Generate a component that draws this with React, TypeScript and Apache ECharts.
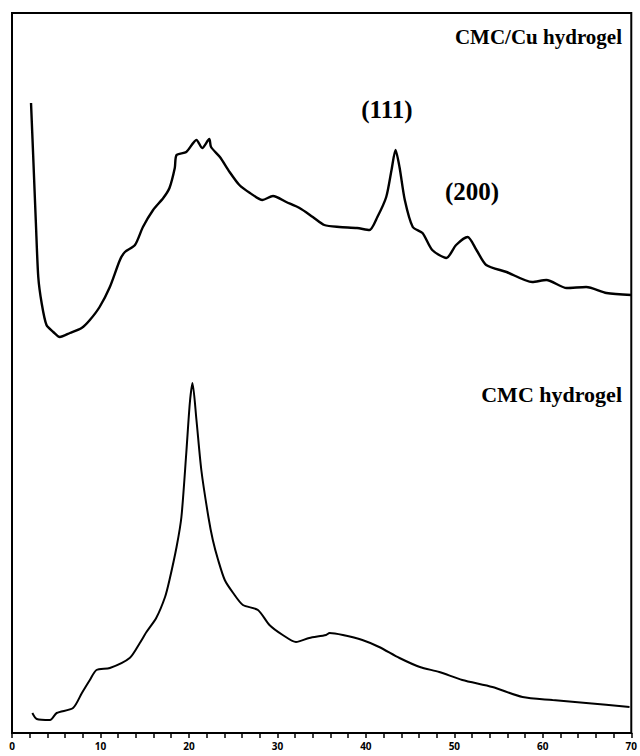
import React, { useEffect, useRef } from "react";
import * as echarts from "echarts";

// 2θ (degrees) and intensity (a.u.)
const cuX = [2.15, 2.4, 2.7, 2.97, 3.35, 3.9, 4.67, 5.4, 6.55, 7.87, 8.8, 9.9, 11.06, 12.2, 12.76, 13.9, 14.8, 15.95, 17.1, 17.8, 18.4, 18.6, 19.7, 20.85, 21.5, 22.3, 22.5, 23.5, 24.6, 25.7, 26.9, 28.3, 29.5, 31, 32.5, 34, 35.3, 37, 39, 40.4, 41.3, 42.3, 42.9, 43.35, 43.8, 44.4, 45.3, 46.4, 47.5, 49.1, 50.2, 51.5, 52.5, 53.6, 55.9, 58.8, 60.4, 62.7, 64.9, 67.2, 70];
const cuY = [630, 576, 510, 456, 430, 408, 401, 396, 400, 405, 413, 426, 446, 473, 481, 488, 506, 523, 535, 545, 565, 578, 581, 593, 585, 594, 586, 576, 561, 548, 540, 533, 537, 531, 525, 516, 508, 506, 505, 503, 516, 536, 563, 583, 566, 533, 506, 500, 483, 475, 488, 496, 483, 468, 461, 451, 453, 445, 446, 440, 438];

const cmcX = [2.3, 2.8, 4.3, 5.05, 6.9, 7.9, 8.8, 9.55, 11.06, 13.3, 14.45, 15.2, 16.3, 17.3, 17.8, 18.6, 19.15, 19.7, 20.1, 20.4, 20.85, 21.4, 22.2, 22.7, 23.3, 24.05, 25, 26.1, 27.8, 29.1, 30.6, 32.1, 33.6, 35.5, 35.9, 37.4, 39.6, 41.5, 43.8, 46.1, 48.3, 50.9, 54.3, 57.7, 61.1, 64.9, 69.8];
const cmcY = [20, 14, 13, 20, 25, 40, 53, 63, 65, 75, 90, 101, 115, 136, 153, 186, 216, 280, 330, 350, 313, 263, 216, 193, 173, 153, 140, 128, 123, 108, 98, 91, 95, 98, 100, 98, 93, 86, 75, 66, 61, 53, 46, 36, 33, 30, 26];

const xTicks = [0, 10, 20, 30, 40, 50, 60, 70];
const seriesNames = ["CMC/Cu hydrogel", "CMC hydrogel"];
const peakLabels = ["(111)", "(200)"];

export default function App() {
  const ref = useRef<HTMLDivElement>(null);
  useEffect(() => {
    if (!ref.current) return;
    const chart = echarts.init(ref.current, undefined, { renderer: "svg" });
    const serif = '"Liberation Serif", "Times New Roman", serif';
    chart.setOption({
      animation: false,
      backgroundColor: "#ffffff",
      grid: {
        left: 12,
        right: 8,
        top: 13,
        bottom: 23,
        show: true,
        borderColor: "#000",
        borderWidth: 2,
        backgroundColor: "transparent",
      },
      xAxis: {
        type: "value",
        min: xTicks[0],
        max: xTicks[xTicks.length - 1],
        interval: 10,
        axisLine: { show: true, onZero: false, lineStyle: { color: "#000", width: 2 } },
        axisTick: { show: true, length: 5, lineStyle: { color: "#000", width: 1.5 } },
        minorTick: { show: true, splitNumber: 5, length: 5, lineStyle: { color: "#000", width: 1.5 } },
        splitLine: { show: false },
        minorSplitLine: { show: false },
        axisLabel: {
          color: "#000",
          fontFamily: '"Open Sans", sans-serif',
          fontWeight: "bold",
          fontSize: 10,
          margin: 8,
          showMinLabel: true,
          showMaxLabel: true,
        },
      },
      yAxis: {
        type: "value",
        min: 0,
        max: 720,
        axisLine: { show: true, lineStyle: { color: "#000", width: 2 } },
        axisTick: { show: false },
        axisLabel: { show: false },
        splitLine: { show: false },
      },
      series: [
        {
          name: seriesNames[0],
          type: "line",
          data: cuX.map((x, i) => [x, cuY[i]]),
          showSymbol: false,
          symbol: "none",
          smooth: 0.25,
          lineStyle: { color: "#000", width: 2.4 },
        },
        {
          name: seriesNames[1],
          type: "line",
          data: cmcX.map((x, i) => [x, cmcY[i]]),
          showSymbol: false,
          symbol: "none",
          smooth: 0.25,
          lineStyle: { color: "#000", width: 2 },
        },
      ],
      graphic: [
        {
          type: "text",
          x: 622,
          y: 37,
          style: {
            text: seriesNames[0],
            font: `bold 21px ${serif}`,
            fill: "#000",
            align: "right",
            verticalAlign: "middle",
          },
        },
        {
          type: "text",
          x: 622,
          y: 394,
          style: {
            text: seriesNames[1],
            font: `bold 22px ${serif}`,
            fill: "#000",
            align: "right",
            verticalAlign: "middle",
          },
        },
        {
          type: "text",
          x: 387,
          y: 109,
          style: {
            text: peakLabels[0],
            font: `bold 25px ${serif}`,
            fill: "#000",
            align: "center",
            verticalAlign: "middle",
          },
        },
        {
          type: "text",
          x: 472,
          y: 191,
          style: {
            text: peakLabels[1],
            font: `bold 25px ${serif}`,
            fill: "#000",
            align: "center",
            verticalAlign: "middle",
          },
        },
      ],
    });
    return () => chart.dispose();
  }, []);
  return (
    <div
      ref={ref}
      style={{ position: "fixed", left: 0, top: 0, width: 640, height: 756, background: "#fff" }}
    />
  );
}
